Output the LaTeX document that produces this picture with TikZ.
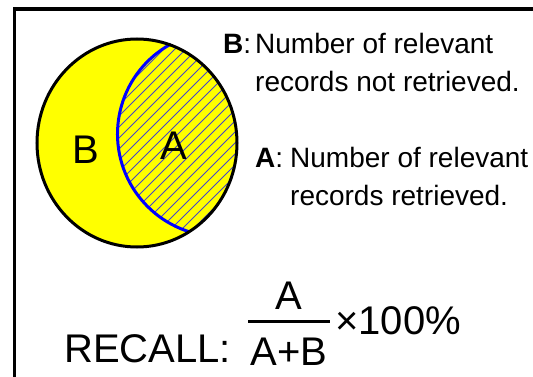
\documentclass[tikz,border=0pt]{standalone}
\usepackage{fontspec}
\setmainfont{Liberation Sans}
\definecolor{hatchblue}{RGB}{70,70,200}
\definecolor{arcblue}{RGB}{0,0,255}
\definecolor{vennyellow}{RGB}{255,255,0}
\begin{document}
\begin{tikzpicture}[x=1pt,y=1pt,
  txt/.style={inner sep=0pt, font=\fontsize{28}{34}\selectfont, anchor=base west},
  big/.style={inner sep=0pt, font=\fontsize{40}{48}\selectfont},
  hatchline/.style={draw=hatchblue, line width=0.9pt},
  frameline/.style={line width=3.6pt, line join=miter},
  outline/.style={line width=3pt},
  arcline/.style={draw=arcblue, line width=3pt}]
\useasboundingbox (0,0) rectangle (533,376);
\fill[white] (0,0) rectangle (533,376);
% frame
\draw[frameline] (14.5,-3) -- (14.5,367) -- (537,367);
% Venn
\coordinate (c) at (137,233);
\coordinate (ca) at (220,242);
\fill[vennyellow] (c) ellipse [x radius=100, y radius=104];
\begin{scope}
  \clip (ca) ++(118.7:102.5) arc[start angle=118.7, end angle=252.6, radius=102.5]
        arc[start angle=-58.5, end angle=70.6, x radius=100, y radius=104] -- cycle;
  \foreach \k in {-240,-229,...,130} {
    \draw[hatchline] ({120+\k},120) -- ({350+\k},350);
  }
\end{scope}
\draw[arcline] (ca) ++(118.7:102.5) arc[start angle=118.7, end angle=252.6, radius=102.5];
\draw[outline] (c) ellipse [x radius=100, y radius=104];
\node[big] (labB) at (85.5,226) {B};
\node[big] (labA) at (173.5,230) {A};
% descriptions
\node[txt] (Bkey) at (223,323) {\textbf{B}:};
\node[txt] (Bl1) at (255,323) {Number of relevant};
\node[txt] (Bl2) at (255,285) {records not retrieved.};
\node[txt] (Akey) at (255,209) {\textbf{A}:};
\node[txt] (Al1) at (290,209) {Number of relevant};
\node[txt] (Al2) at (290,171) {records retrieved.};
% formula
\node[big, anchor=base west] (recall) at (64,14) {RECALL:};
\node[big, anchor=base] (num) at (289,67) {A};
\node[big, anchor=base] (den) at (289,11) {A+B};
\coordinate (barL) at (248,55);
\coordinate (barR) at (330,55);
\draw[outline] (barL) -- (barR);
\node[big, anchor=base west] (pct) at (335,42) {×100\%};
\end{tikzpicture}
\end{document}
